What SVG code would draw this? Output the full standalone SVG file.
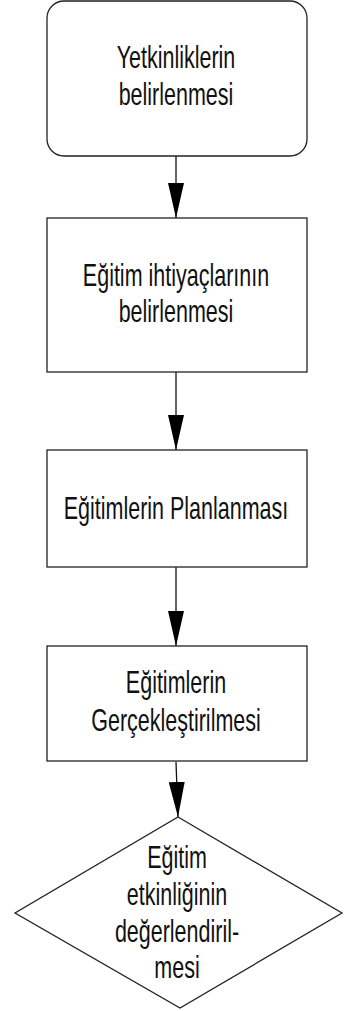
<svg xmlns="http://www.w3.org/2000/svg" width="344" height="1011" viewBox="0 0 344 1011">
<style>
.shape{fill:#fff;stroke:#222;stroke-width:1.3}
.conn{stroke:#111;stroke-width:1.3;fill:none}
.t{font-family:"Liberation Sans",Arial,sans-serif;font-size:21.5px;fill:#111;text-anchor:middle}
</style>
<defs>
<marker id="ah" markerUnits="userSpaceOnUse" viewBox="0 -8 35 16" markerWidth="35" markerHeight="16" refX="35" refY="0" orient="auto">
<path d="M0,-8 L35,0 L0,8 Z" fill="#000"/>
</marker>
</defs>
<rect width="344" height="1011" fill="#fff"/>
<g id="connectors">
<line class="conn" x1="176" y1="156" x2="176" y2="218" marker-end="url(#ah)"/>
<line class="conn" x1="176" y1="372" x2="176" y2="450" marker-end="url(#ah)"/>
<line class="conn" x1="176" y1="567" x2="176" y2="646" marker-end="url(#ah)"/>
<line class="conn" x1="176" y1="762" x2="178" y2="817" marker-end="url(#ah)"/>
</g>
<g id="n1">
<rect class="shape" x="47" y="1" width="260" height="155" rx="17" ry="17"/>
<text class="t" transform="translate(176,68) scale(1,1.42)">Yetkinliklerin</text>
<text class="t" transform="translate(176,105) scale(1,1.42)">belirlenmesi</text>
</g>
<g id="n2">
<rect class="shape" x="47" y="218" width="260" height="154"/>
<text class="t" transform="translate(176,286) scale(1,1.42)">Eğitim ihtiyaçlarının</text>
<text class="t" transform="translate(176,322) scale(1,1.42)">belirlenmesi</text>
</g>
<g id="n3">
<rect class="shape" x="47" y="450" width="260" height="117"/>
<text class="t" transform="translate(176,519) scale(1,1.42)">Eğitimlerin Planlanması</text>
</g>
<g id="n4">
<rect class="shape" x="47" y="646" width="260" height="115"/>
<text class="t" transform="translate(176,693) scale(1,1.42)">Eğitimlerin</text>
<text class="t" transform="translate(176,731) scale(1,1.42)">Gerçekleştirilmesi</text>
</g>
<g id="n5">
<polygon class="shape" points="178,817 342,913 180,1008 15,913"/>
<text class="t" transform="translate(177,868) scale(1,1.42)">Eğitim</text>
<text class="t" transform="translate(177,905) scale(1,1.42)">etkinliğinin</text>
<text class="t" transform="translate(177,942) scale(1,1.42)">değerlendiril-</text>
<text class="t" transform="translate(177,978) scale(1,1.42)">mesi</text>
</g>
</svg>
